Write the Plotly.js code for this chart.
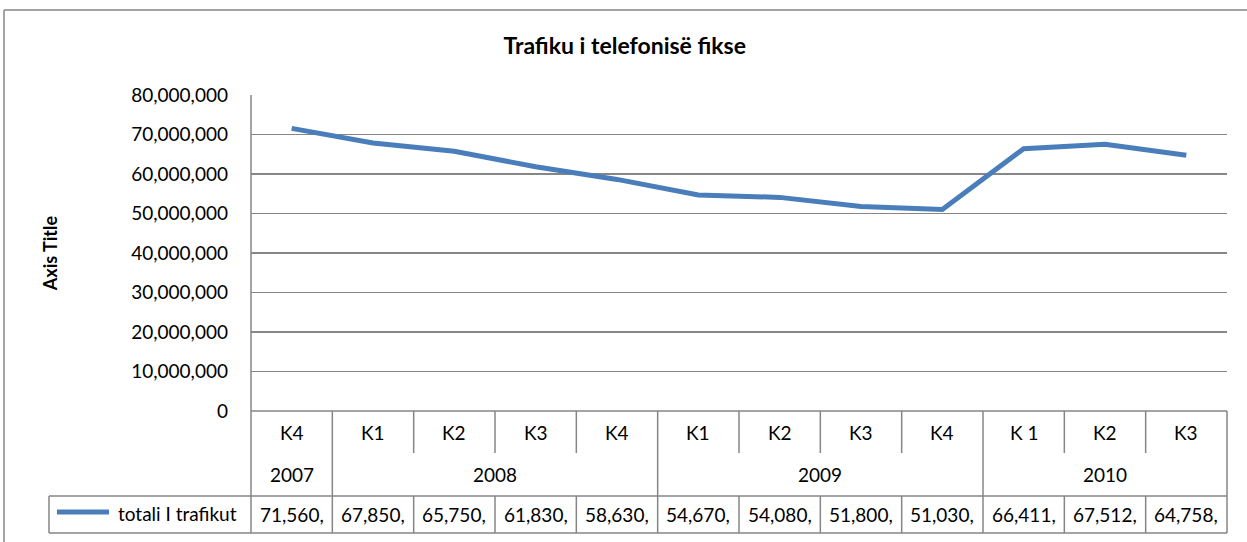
<!DOCTYPE html>
<html>
<head>
<meta charset="utf-8">
<script src="https://cdn.plot.ly/plotly-3.0.1.min.js"></script>
<style>html,body{margin:0;padding:0;background:#fff;}#chart{width:1247px;height:542px;}</style>
</head>
<body>
<div id="chart"></div>
<script>
// ---- data ----
const quarters = ["K4", "K1", "K2", "K3", "K4", "K1", "K2", "K3", "K4", "K 1", "K2", "K3"];
const years = ["2007", "2008", "2009", "2010"];
const yearSpans = [1, 4, 4, 3]; // number of quarters per year group
const values = [71560000, 67850000, 65750000, 61830000, 58630000, 54670000, 54080000, 51800000, 51030000, 66411000, 67512000, 64758000];
const seriesName = "totali I trafikut";
const chartTitle = "Trafiku i telefonisë fikse";
const yTitle = "Axis Title";

// ---- geometry helpers (pixels -> paper) ----
const W = 1247, H = 542;
const px = x => x / W;
const py = y => 1 - y / H;
const plotL = 251, plotR = 1227, plotT = 95, plotB = 411;
const rowQ = 453, rowD = 496, rowEnd = 533, legL = 49;
const grid = "#868686";
const font = "Lato, 'Open Sans', sans-serif";
const blue = "#4A7EBB";

const idx = quarters.map((_, i) => i);
const fmt = v => v.toLocaleString("en-US");
const tableLabels = values.map(v => fmt(v).slice(0, 7));

const shapes = [];
const line = (x0, y0, x1, y1, xref) => shapes.push({
  type: "line", xref: xref || "paper", yref: "paper",
  x0: x0, x1: x1, y0: y0, y1: y1,
  line: {color: grid, width: 1.5}, layer: "above"
});
// outer chart border
line(px(4), py(10), px(W + 5), py(10));
line(px(4), py(10), px(4), py(H + 5));
// table horizontals
line(px(plotL), py(plotB), px(plotR), py(plotB));
line(px(legL), py(rowD), px(plotR), py(rowD));
line(px(legL), py(rowEnd), px(plotR), py(rowEnd));
// table verticals
line(px(plotL), py(plotT), px(plotL), py(rowEnd));
line(px(plotR), py(plotB), px(plotR), py(rowEnd));
line(px(legL), py(rowD), px(legL), py(rowEnd));
// category boundaries
const groupEnds = [];
let acc = 0;
yearSpans.forEach(s => { acc += s; groupEnds.push(acc); });
for (let i = 1; i < quarters.length; i++) {
  const full = groupEnds.indexOf(i) >= 0;
  line(i - 0.5, py(plotB), i - 0.5, py(full ? rowEnd : rowQ), "x");
  if (!full) line(i - 0.5, py(rowD), i - 0.5, py(rowEnd), "x");
}
// legend swatch
shapes.push({type: "line", xref: "paper", yref: "paper", x0: px(57), x1: px(109), y0: py(512), y1: py(512),
  line: {color: blue, width: 5}, layer: "above"});

const annotations = [];
const txt = (x, y, t, xref, extra) => annotations.push(Object.assign({
  x: x, y: y, xref: xref || "x", yref: "paper", text: t, showarrow: false,
  xanchor: "center", yanchor: "middle", font: {family: font, size: 19, color: "#000"}
}, extra || {}));
quarters.forEach((q, i) => txt(i, py(432), q));
let start = 0;
years.forEach((y, k) => {
  txt(start + (yearSpans[k] - 1) / 2, py(474), y);
  start += yearSpans[k];
});
tableLabels.forEach((t, i) => txt(i, py(514), t));
txt(px(116), py(513), seriesName, "paper", {xanchor: "left"});

const trace = {
  x: idx, y: values, type: "scatter", mode: "lines", name: seriesName,
  line: {color: blue, width: 5, shape: "linear"}, hoverinfo: "skip"
};

const layout = {
  width: W, height: H,
  margin: {l: 0, r: 0, t: 0, b: 0},
  paper_bgcolor: "#fff", plot_bgcolor: "#fff",
  showlegend: false,
  title: {text: "<b>" + chartTitle + "</b>", x: 0.501, xanchor: "center", y: py(46), yanchor: "middle",
    font: {family: font, size: 23, color: "#000"}},
  xaxis: {domain: [px(plotL), px(plotR)], range: [-0.5, quarters.length - 0.5],
    showticklabels: false, showgrid: false, zeroline: false, ticks: "", fixedrange: true},
  yaxis: {domain: [py(plotB), py(plotT)], range: [0, 80000000], dtick: 10000000,
    tickformat: ",d", showgrid: true, gridcolor: grid, gridwidth: 1.5, zeroline: false,
    ticks: "", ticklabelstandoff: 22, tickfont: {family: font, size: 19, color: "#000"},
    title: {text: "<b>" + yTitle + "</b>", standoff: 68, font: {family: font, size: 18, color: "#000"}},
    automargin: false, fixedrange: true},
  shapes: shapes,
  annotations: annotations
};

Plotly.newPlot("chart", [trace], layout, {displayModeBar: false, staticPlot: true});
</script>
</body>
</html>
